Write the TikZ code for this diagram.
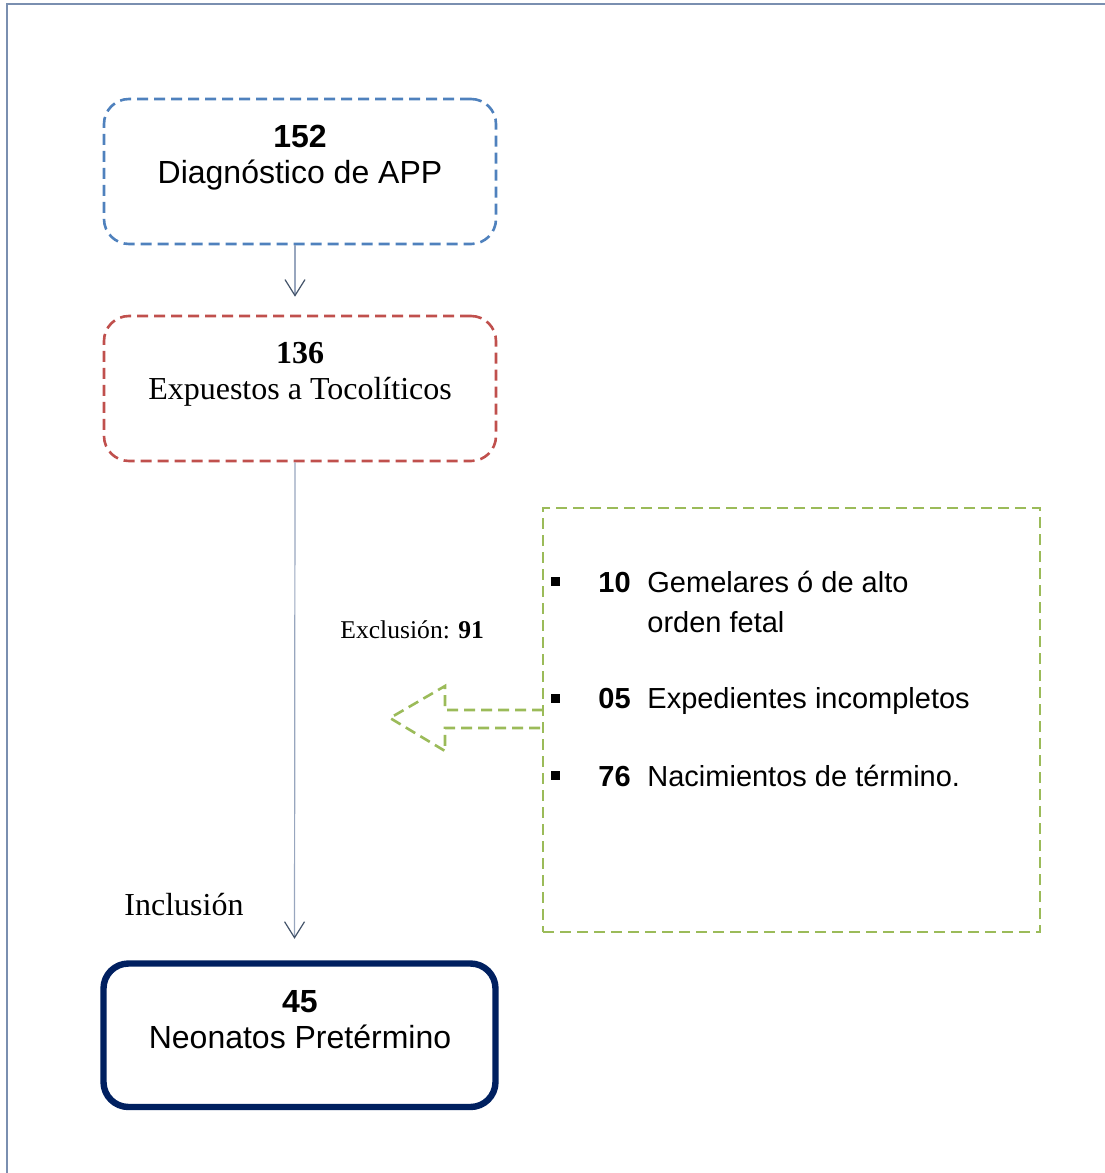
\documentclass[tikz,border=0pt]{standalone}
\usepackage{fontspec}
\setmainfont{Liberation Serif}
\setsansfont{Liberation Sans}
\usetikzlibrary{arrows.meta}

\definecolor{mBlue}{HTML}{4F81BD}
\definecolor{mRed}{HTML}{C0504D}
\definecolor{mGreen}{HTML}{9BBB59}
\definecolor{mNavy}{HTML}{002060}
\definecolor{mFrame}{HTML}{7A8FB0}
\definecolor{mLine}{HTML}{98A6BE}
\definecolor{mTip}{HTML}{44546A}

\tikzset{
  box/.style={rounded corners=12.5pt, minimum width=196pt, minimum height=72.5pt, inner sep=0pt},
  dashbox/.style={box, line width=1.3pt, dash pattern=on 5.5pt off 3pt},
  greendash/.style={draw=mGreen, line width=1.3pt, dash pattern=on 5.5pt off 3pt},
  conn/.style={draw=mLine, line width=0.6pt, -{Straight Barb[length=8pt,width=10pt,color=mTip]}},
  sanstxt/.style={inner sep=0pt, font=\sffamily\fontsize{16}{18}\selectfont},
  seriftxt/.style={inner sep=0pt, font=\rmfamily\fontsize{16}{18}\selectfont},
  itemtxt/.style={inner sep=0pt, anchor=base west, font=\sffamily\fontsize{14.5}{17}\selectfont},
  bullet/.style={fill=black, minimum size=4.5pt, inner sep=0pt}
}

\begin{document}
\begin{tikzpicture}[x=0.5pt, y=-0.5pt]
\useasboundingbox (0,0) rectangle (1104,1173);
\draw[mFrame, line width=1pt] (7,1200) -- (7,3.5) -- (1130,3.5);

% boxes
\node[dashbox, draw=mBlue] (diag) at (300,171.5) {};
\node[sanstxt, anchor=base] (diagnum) at (300,147) {\bfseries 152};
\node[sanstxt, anchor=base] (diagtxt) at (300,183) {Diagnóstico de APP};

\node[dashbox, draw=mRed] (expu) at (300,388.5) {};
\node[seriftxt, anchor=base] (expunum) at (300,363) {\bfseries 136};
\node[seriftxt, anchor=base] (exputxt) at (300,399) {Expuestos a Tocolíticos};

\node[box, draw=mNavy, line width=3.2pt, minimum height=71.75pt] (neo) at (299.5,1035.25) {};
\node[sanstxt, anchor=base] (neonum) at (300,1012) {\bfseries 45};
\node[sanstxt, anchor=base] (neotxt) at (300,1048) {Neonatos Pretérmino};

% connectors
\draw[conn, shorten >=9pt] ([xshift=-2.5pt]diag.south) -- ([xshift=-2.5pt]expu.north);
\draw[conn, shorten >=10.75pt] ([xshift=-2.5pt]expu.south) -- ([xshift=-2.5pt]neo.north);

\node[seriftxt, anchor=base west] (incl) at (124,915) {Inclusión};
\node[inner sep=0pt, anchor=base west, font=\rmfamily\fontsize{12.8}{15}\selectfont] (excltxt) at (340,638) {Exclusión: \textbf{91}};

% exclusion box
\node[greendash, minimum width=248.5pt, minimum height=212pt, inner sep=0pt] (excl) at (791.5,720) {};
\draw[greendash] (543,710) -- (445,710) -- (445,686) -- (390,718) -- (445,751) -- (445,728) -- (543,728);

\node[bullet] (sq1) at (555,581) {};
\node[itemtxt] (num1) at (598,592) {\bfseries 10};
\node[itemtxt] (item1) at (647,592) {Gemelares ó de alto};
\node[itemtxt] (item1b) at (647,632) {orden fetal};

\node[bullet] (sq2) at (555,698) {};
\node[itemtxt] (num2) at (598,708) {\bfseries 05};
\node[itemtxt] (item2) at (647,708) {Expedientes incompletos};

\node[bullet] (sq3) at (555,775) {};
\node[itemtxt] (num3) at (598,786) {\bfseries 76};
\node[itemtxt] (item3) at (647,786) {Nacimientos de término.};

\end{tikzpicture}
\end{document}
